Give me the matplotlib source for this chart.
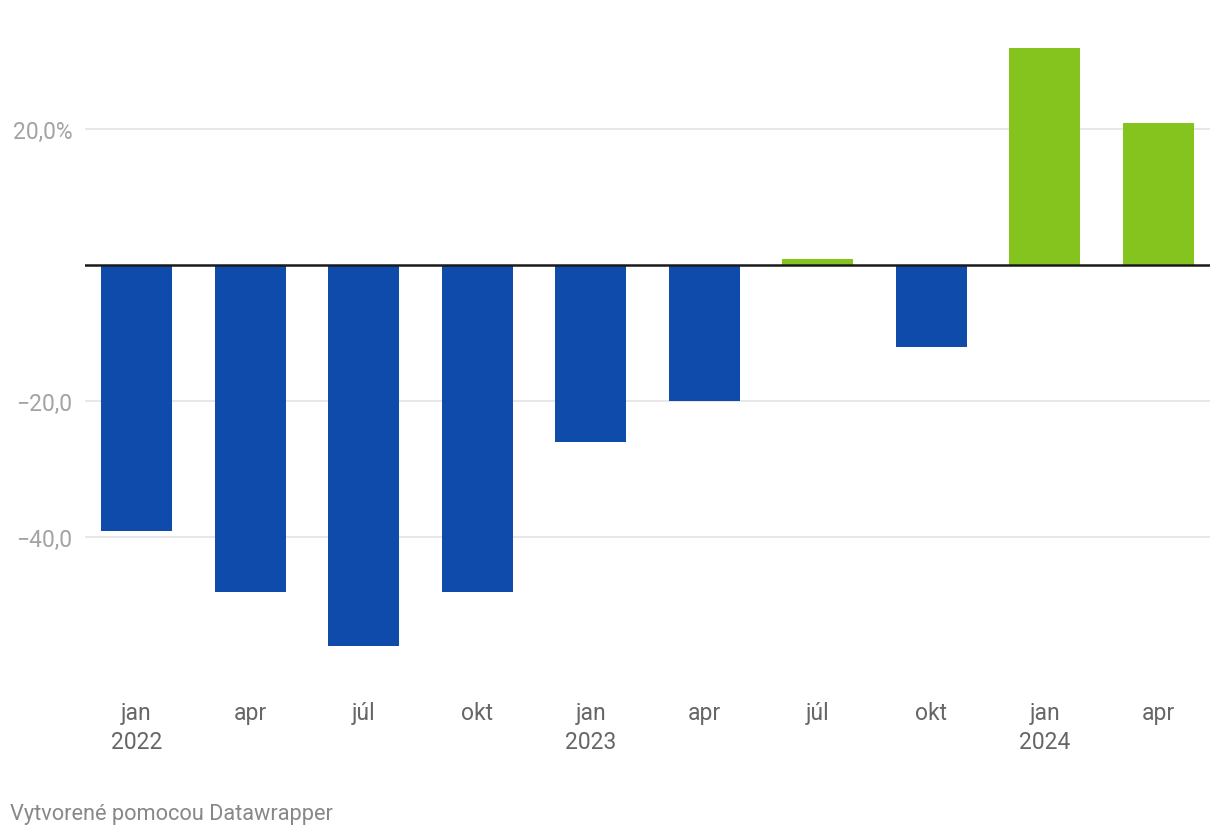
import numpy as np
import matplotlib
matplotlib.use("Agg")
import matplotlib.pyplot as plt

plt.rcParams['font.family'] = ['Roboto', 'DejaVu Sans']

labels = ["jan\n2022", "apr", "júl", "okt", "jan\n2023", "apr", "júl", "okt", "jan\n2024", "apr"]
values = [-39, -48, -56, -48, -26, -20, 0.9, -12, 32, 21]
yticks = [20, -20, -40]
ytick_labels = ["20,0%", "\u221220,0", "\u221240,0"]

BLUE = "#0e4baa"
GREEN = "#85c31f"

fig = plt.figure(figsize=(12.2, 8.38), dpi=100)
ax = fig.add_axes([85 / 1220, (838 - 680) / 838, 1125 / 1220, 640 / 838])

x = np.arange(len(values))
colors = [GREEN if v > 0 else BLUE for v in values]
ax.bar(x, values, width=0.625, color=colors, zorder=2)

ax.set_xlim(-0.453, len(values) - 1 + 0.453)
ax.set_ylim(-(680 - 265.5) / 6.8, (265.5 - 40) / 6.8)

for yv in yticks:
    ax.axhline(yv, color="#e3e3e3", lw=1.2, zorder=1)
ax.axhline(0, color="#1a1a1a", lw=1.8, zorder=3)

ax.set_yticks(yticks)
ax.set_yticklabels(ytick_labels, fontsize=16.5, color="#a3a3a3")
ax.tick_params(axis="y", length=0, pad=9)
ax.set_xticks(x)
ax.set_xticklabels(labels, fontsize=16.5, color="#666666", linespacing=1.3)
ax.tick_params(axis="x", length=0, pad=16)

for s in ax.spines.values():
    s.set_visible(False)

fig.text(10 / 1220, 1 - 814 / 838, "Vytvorené pomocou Datawrapper", fontsize=15.7,
         color="#888888", va="center", ha="left")

fig.savefig("out.png", dpi=100)
